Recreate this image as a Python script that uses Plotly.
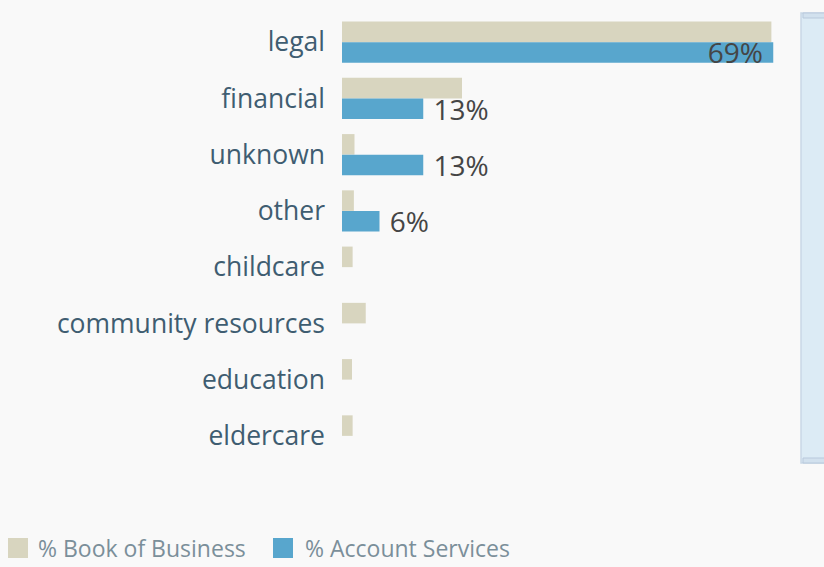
import plotly.graph_objects as go

# Service categories, top to bottom
categories = ["legal", "financial", "unknown", "other", "childcare",
              "community resources", "education", "eldercare"]

# Share of the whole book of business (%)
book_of_business = [68.7, 19.2, 2.0, 1.9, 1.7, 3.8, 1.6, 1.7]

# Share of this account's services (%); categories without usage left empty
account_services = [69, 13, 13, 6, None, None, None, None]

legend_names = ["% Book of Business", "% Account Services"]

BEIGE = "#d8d5bf"
BLUE = "#58a6cd"
BG = "#f9f9f9"
FONT = "Open Sans"
NBSP = "\u00a0"

W, H = 824, 567
ML, MR, MT, MB = 342, 30, 14, 103
PW = W - ML - MR
PH = H - MT - MB

acct_pos = ["inside" if (v is not None and v > 40) else "outside"
            for v in account_services]
acct_text = []
for v, pos in zip(account_services, acct_pos):
    if v is None:
        acct_text.append("")
    elif pos == "inside":
        acct_text.append(f"{v}%" + NBSP)
    else:
        acct_text.append(NBSP + f"{v}%")

fig = go.Figure()
fig.add_trace(go.Bar(
    y=categories, x=book_of_business, orientation="h",
    name=legend_names[0], marker=dict(color=BEIGE, line=dict(width=0)),
    showlegend=False, hoverinfo="x+y",
))
fig.add_trace(go.Bar(
    y=categories, x=account_services, orientation="h",
    name=legend_names[1], marker=dict(color=BLUE, line=dict(width=0)),
    text=acct_text, textposition=acct_pos, insidetextanchor="end",
    constraintext="none", cliponaxis=False,
    textfont=dict(family=FONT, size=28, color="#454545"),
    insidetextfont=dict(family=FONT, size=28, color="#454545"),
    outsidetextfont=dict(family=FONT, size=28, color="#454545"),
    showlegend=False, hoverinfo="x+y",
))

def px_x(p):
    return (p - ML) / PW

def px_y(p):
    return (H - MB - p) / PH

shapes = [
    # side panel on the right edge
    dict(type="rect", xref="paper", yref="paper",
         x0=px_x(801), x1=px_x(830), y0=px_y(463), y1=px_y(13),
         fillcolor="#dcebf5", line=dict(color="#c9d8e6", width=1.5),
         layer="below"),
    dict(type="rect", xref="paper", yref="paper",
         x0=px_x(803), x1=px_x(830), y0=px_y(18), y1=px_y(13),
         fillcolor="#d2e1ee", line=dict(color="#b9c9dc", width=1),
         layer="below"),
    dict(type="rect", xref="paper", yref="paper",
         x0=px_x(803), x1=px_x(830), y0=px_y(463), y1=px_y(458),
         fillcolor="#d2e1ee", line=dict(color="#b9c9dc", width=1),
         layer="below"),
]

annotations = []
# legend swatches and labels along the bottom
legend_items = [(8, 36, BEIGE, legend_names[0]), (273, 303, BLUE, legend_names[1])]
for sx, tx, col, label in legend_items:
    shapes.append(dict(type="rect", xref="paper", yref="paper",
                       x0=px_x(sx), x1=px_x(sx + 20),
                       y0=px_y(558), y1=px_y(538),
                       fillcolor=col, line=dict(width=0)))
    annotations.append(dict(xref="paper", yref="paper",
                            x=px_x(tx), y=px_y(548), xanchor="left",
                            yanchor="middle", showarrow=False, text=label,
                            font=dict(family=FONT, size=23, color="#7b8f9a")))

fig.update_layout(
    width=W, height=H,
    margin=dict(l=ML, r=MR, t=MT, b=MB),
    paper_bgcolor=BG, plot_bgcolor=BG,
    barmode="group", bargap=0.27, bargroupgap=0,
    showlegend=False,
    shapes=shapes, annotations=annotations,
    xaxis=dict(range=[0, PW / 6.25], visible=False, fixedrange=True),
    yaxis=dict(autorange="reversed", showgrid=False, zeroline=False,
               showline=False, ticks="", ticklabelstandoff=16,
               tickfont=dict(family=FONT, size=26.5, color="#3f5d71")),
)

fig.write_html("out.html")
